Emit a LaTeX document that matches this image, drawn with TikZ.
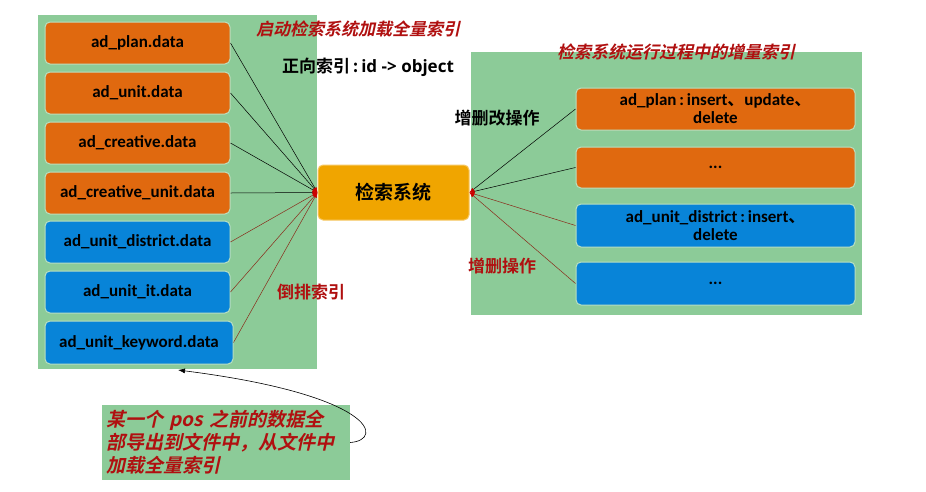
\documentclass[tikz,border=0pt]{standalone}
\usepackage{fontspec}
\setmainfont{Carlito}
\newfontfamily\cjk{Noto Sans CJK SC}[BoldFont={* Bold}]
\newfontfamily\cjkit{Noto Sans CJK SC Bold}[FakeSlant=0.22]
\newfontfamily\osans{Open Sans}[BoldFont={* Bold}]
\usetikzlibrary{arrows.meta}
\definecolor{pgreen}{HTML}{8CCB98}
\definecolor{porange}{HTML}{E0690F}
\definecolor{pblue}{HTML}{0884D8}
\definecolor{pgold}{HTML}{F0A500}
\definecolor{dred}{HTML}{B01010}
\definecolor{lred}{HTML}{8A2A1A}
\tikzset{
 panel/.style={fill=pgreen,draw=none},
 obox/.style={rectangle,rounded corners=5pt,fill=porange,draw=pgreen!60!white,line width=1pt,font=\bfseries\fontsize{17}{18}\selectfont,align=center,inner sep=1pt},
 bbox/.style={obox,fill=pblue},
 lbl/.style={font=\cjk\bfseries\fontsize{17}{19}\selectfont},
 rlbl/.style={lbl,text=dred},
 ilbl/.style={font=\cjkit\fontsize{17}{19}\selectfont,text=dred},
 cline/.style={-{Latex[length=5pt,width=4pt,color=red!80!black]},line width=0.5pt},
}
\begin{document}
\begin{tikzpicture}[x=1pt,y=-1pt]
\useasboundingbox[fill=white] (0,0) rectangle (926,491);
\fill[panel] (38,15) rectangle (317,369);
\fill[panel] (471,52) rectangle (862,315);
\foreach \n/\t/\y/\s in {p1/ad\_plan.data/43/obox,p2/ad\_unit.data/93/obox,p3/ad\_creative.data/143/obox,p4/ad\_creative\_unit.data/193/obox,p5/ad\_unit\_district.data/242/bbox,p6/ad\_unit\_it.data/292/bbox}
  \node[\s,minimum width=185pt,minimum height=42pt] (\n) at (137.5,\y) {\t};
\node[bbox,minimum width=188pt,minimum height=43pt] (p7) at (139,342.5) {ad\_unit\_keyword.data};
\node[obox,fill=pgold,draw=pgold!60!white,minimum width=151pt,minimum height=55pt,font=\cjk\bfseries\fontsize{19}{21}\selectfont] (c) at (393.5,192.5) {检索系统};
\node[obox,minimum width=279pt,minimum height=42pt,text width=270pt] (q1) at (715.5,109) {ad\_plan\,:\,insert{\cjk 、}update{\cjk 、}\\delete};
\node[obox,minimum width=279pt,minimum height=41pt] (q2) at (715.5,167.5) {...};
\node[bbox,minimum width=279pt,minimum height=43pt,text width=270pt] (q3) at (715.5,225.5) {ad\_unit\_district\,:\,insert{\cjk 、}\\delete};
\node[bbox,minimum width=279pt,minimum height=43pt] (q4) at (715.5,283.5) {...};
\foreach \n in {p1,p2,p3,p4} \draw[cline] (\n.east) -- (c.west);
\foreach \n in {p5,p6,p7} \draw[cline,draw=lred] (\n.east) -- (c.west);
\foreach \n in {q1,q2} \draw[cline] (\n.west) -- (c.east);
\foreach \n in {q3,q4} \draw[cline,draw=lred] (\n.west) -- (c.east);
\node[ilbl] (t1) at (358,29) {启动检索系统加载全量索引};
\node[lbl] (t2) at (368,67) {正向索引\,:\,{\osans\bfseries id -> object}};
\node[ilbl] (t3) at (676,52) {检索系统运行过程中的增量索引};
\node[lbl] (t4) at (497,118) {增删改操作};
\node[rlbl] (t5) at (502,266) {增删操作};
\node[rlbl] (t6) at (311,292) {倒排索引};
\node[fill=pgreen,minimum width=248pt,minimum height=75pt,text width=240pt,align=left,font=\cjkit\fontsize{19}{23}\selectfont,text=dred,inner sep=3pt] (n) at (226,442.5) {某一个 pos 之前的数据全\\部导出到文件中，从文件中\\加载全量索引};
\coordinate (a) at (178,370);
\draw[-{Latex[length=7pt,width=5pt]},line width=0.6pt] (n.east) .. controls (385,440) and (375,395) .. (a);
\end{tikzpicture}
\end{document}
